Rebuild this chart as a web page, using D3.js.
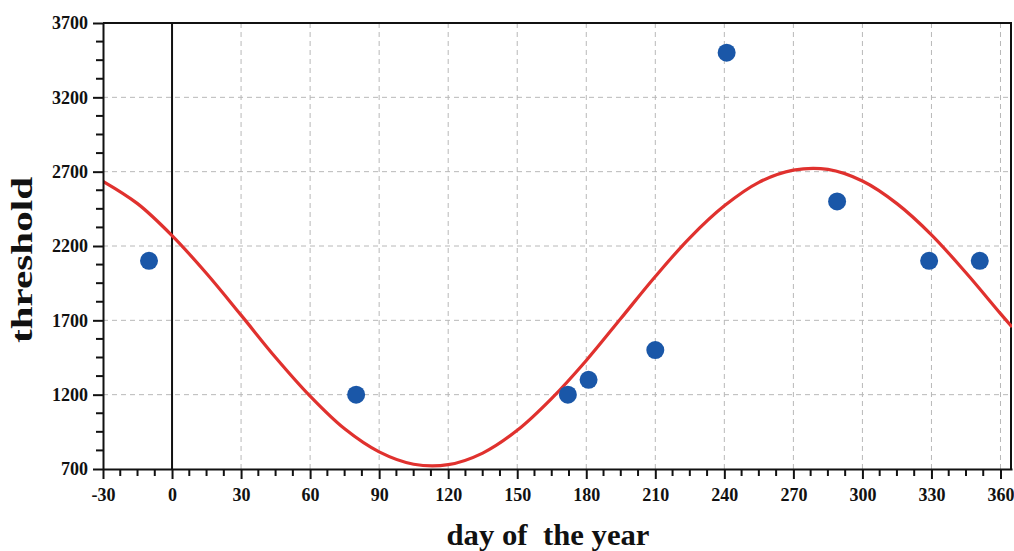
<!DOCTYPE html>
<html>
<head>
<meta charset="utf-8">
<script src="https://cdn.jsdelivr.net/npm/d3@7/dist/d3.min.js"></script>
<style>
  html, body { margin: 0; padding: 0; background: #ffffff; }
  svg { display: block; }
</style>
</head>
<body>
<svg id="chart" width="1014" height="551"></svg>
<script>
// Observed data points (day of year, threshold)
const pointDays = [-10, 80, 172, 181, 210, 241, 289, 329, 351];
const pointThresholds = [2100, 1200, 1200, 1300, 1500, 3500, 2500, 2100, 2100];

// Fitted curve
const curveDays = [-30, -15, 0, 15, 30, 45, 60, 75, 90, 105, 120, 135, 150, 165, 180, 195, 210, 225, 240, 255, 270, 285, 300, 315, 330, 345, 360, 365];
const curveThresholds = [2635, 2485, 2270, 2015, 1735, 1450, 1190, 970, 815, 732, 729, 807, 960, 1175, 1430, 1712, 1995, 2255, 2470, 2628, 2710, 2715, 2637, 2485, 2275, 2020, 1745, 1655];

// Tick labels
const xTicks = [-30, 0, 30, 60, 90, 120, 150, 180, 210, 240, 270, 300, 330, 360];
const yTicks = [700, 1200, 1700, 2200, 2700, 3200, 3700];

const xDomain = [-30, 365];
const yDomain = [700, 3700];

const svg = d3.select("#chart");
const margin = { left: 103, right: 2, top: 23, bottom: 82 };
const W = 1014, H = 551;
const x = d3.scaleLinear().domain(xDomain).range([margin.left, W - margin.right]);
const y = d3.scaleLinear().domain(yDomain).range([H - margin.bottom, margin.top]);

const font = "'Liberation Serif', 'DejaVu Serif', serif";
const fmt = d => String(d);

// grid
const grid = svg.append("g");
grid.selectAll("line.gx").data(xTicks.filter(d => d > 0)).join("line")
  .attr("x1", d => x(d)).attr("x2", d => x(d))
  .attr("y1", y(yDomain[0])).attr("y2", y(yDomain[1]))
  .attr("stroke", "#b8b8b8").attr("stroke-width", 1).attr("stroke-dasharray", "5,4");
grid.selectAll("line.gy").data(yTicks.filter(d => d > 700 && d < 3700)).join("line")
  .attr("x1", x(xDomain[0])).attr("x2", x(xDomain[1]))
  .attr("y1", d => y(d)).attr("y2", d => y(d))
  .attr("stroke", "#b8b8b8").attr("stroke-width", 1).attr("stroke-dasharray", "5,4");

// zero line
svg.append("line")
  .attr("x1", x(0)).attr("x2", x(0))
  .attr("y1", y(yDomain[0])).attr("y2", y(yDomain[1]))
  .attr("stroke", "#111").attr("stroke-width", 2);

// frame top & right
svg.append("line").attr("x1", x(xDomain[0])).attr("x2", x(xDomain[1]))
  .attr("y1", y(yDomain[1])).attr("y2", y(yDomain[1]))
  .attr("stroke", "#111").attr("stroke-width", 2);
svg.append("line").attr("x1", x(xDomain[1]) - 1).attr("x2", x(xDomain[1]) - 1)
  .attr("y1", y(yDomain[1])).attr("y2", y(yDomain[0]))
  .attr("stroke", "#111").attr("stroke-width", 2);

// curve
const line = d3.line().x((d, i) => x(curveDays[i])).y((d, i) => y(curveThresholds[i])).curve(d3.curveCatmullRom);
svg.append("clipPath").attr("id", "clip").append("rect")
  .attr("x", x(xDomain[0])).attr("y", y(yDomain[1]))
  .attr("width", x(xDomain[1]) - x(xDomain[0])).attr("height", y(yDomain[0]) - y(yDomain[1]));
svg.append("path").datum(curveDays)
  .attr("d", line)
  .attr("fill", "none").attr("stroke", "#e0312e").attr("stroke-width", 3.2)
  .attr("clip-path", "url(#clip)");

// points
svg.selectAll("circle.pt").data(pointDays).join("circle")
  .attr("cx", d => x(d)).attr("cy", (d, i) => y(pointThresholds[i]))
  .attr("r", 9).attr("fill", "#1a57a8");

// axes
const xMinor = d3.range(-30, 365, 7.5).filter(d => (d % 30) !== 0);
const yMinor = d3.range(700, 3700, 125).filter(d => ((d - 700) % 500) !== 0);

const xAxis = svg.append("g").attr("transform", `translate(0,${y(yDomain[0])})`)
  .call(d3.axisBottom(x).tickValues(xTicks).tickFormat(fmt).tickSize(10).tickSizeOuter(0).tickPadding(9));
xAxis.select(".domain").attr("stroke", "#111").attr("stroke-width", 2);
xAxis.selectAll(".tick line").attr("stroke", "#111").attr("stroke-width", 2);
xAxis.selectAll(".tick text").attr("font-family", font).attr("font-weight", "bold")
  .attr("font-size", 18).attr("fill", "#111");
xAxis.append("g").selectAll("line").data(xMinor).join("line")
  .attr("x1", d => x(d)).attr("x2", d => x(d)).attr("y1", 0).attr("y2", 7)
  .attr("stroke", "#111").attr("stroke-width", 2);

const yAxis = svg.append("g").attr("transform", `translate(${x(xDomain[0])},0)`)
  .call(d3.axisLeft(y).tickValues(yTicks).tickFormat(fmt).tickSize(10).tickSizeOuter(0).tickPadding(5));
yAxis.select(".domain").attr("stroke", "#111").attr("stroke-width", 2);
yAxis.selectAll(".tick line").attr("stroke", "#111").attr("stroke-width", 2);
yAxis.selectAll(".tick text").attr("font-family", font).attr("font-weight", "bold")
  .attr("font-size", 18).attr("fill", "#111");
yAxis.append("g").selectAll("line").data(yMinor).join("line")
  .attr("x1", 0).attr("x2", -7).attr("y1", d => y(d)).attr("y2", d => y(d))
  .attr("stroke", "#111").attr("stroke-width", 2);

// axis titles
svg.append("text")
  .attr("x", 548).attr("y", 545)
  .attr("text-anchor", "middle")
  .attr("font-family", font).attr("font-weight", "bold").attr("font-size", 29)
  .attr("fill", "#111")
  .attr("textLength", 203).attr("lengthAdjust", "spacingAndGlyphs")
  .style("white-space", "pre")
  .text("day of  the year");

svg.append("text")
  .attr("transform", "translate(32,260) rotate(-90)")
  .attr("text-anchor", "middle")
  .attr("font-family", font).attr("font-weight", "bold").attr("font-size", 29)
  .attr("fill", "#111")
  .attr("textLength", 166).attr("lengthAdjust", "spacingAndGlyphs")
  .text("threshold");
</script>
</body>
</html>
